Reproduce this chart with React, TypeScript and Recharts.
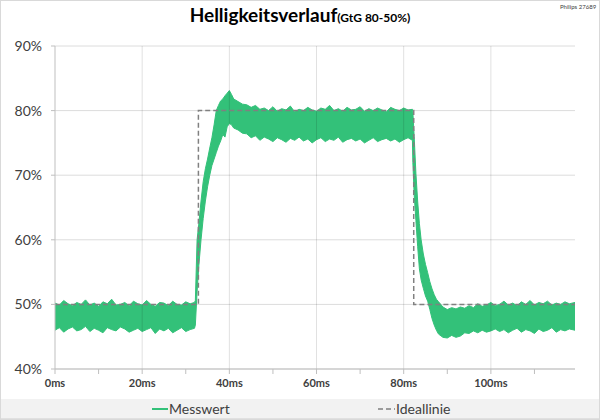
import React from 'react';
import { ComposedChart, Area, Line, XAxis, YAxis, CartesianGrid, ReferenceLine } from 'recharts';

// Messwert: time (ms), lower and upper envelope of the noisy measured signal (%)
const measTime = [
  0, 1, 2, 3, 4, 5, 6, 7, 8, 9, 10, 11, 12, 13, 14, 15, 16, 17, 18, 19, 20, 21, 22, 23, 24, 25, 26, 27, 28, 29, 30, 31, 32,
  32.2, 32.6, 33, 33.5, 34, 34.5, 35, 35.5, 36, 36.5, 37, 37.5, 38, 38.5, 39, 39.5, 40, 40.5, 41,
  42, 43, 44, 45, 46, 47, 48, 49, 50, 51, 52, 53, 54, 55, 56, 57, 58, 59, 60, 61, 62, 63, 64, 65, 66, 67, 68, 69, 70, 71, 72, 73, 74, 75, 76, 77, 78, 79, 80, 81, 82,
  82.1, 82.4, 82.8, 83.2, 83.6, 84, 84.5, 85, 85.5, 86, 86.5, 87, 87.5, 88, 89, 90, 91, 92, 93, 94,
  95, 96, 97, 98, 99, 100, 101, 102, 103, 104, 105, 106, 107, 108, 109, 110, 111, 112, 113, 114, 115, 116, 117, 118, 119.3,
];
const measHigh = [
  50.2, 49.9, 50.6, 50.1, 49.8, 50.3, 50.0, 50.7, 49.9, 50.2, 49.7, 50.4, 50.1, 50.8, 49.9, 50.0, 50.3, 49.8, 50.5, 50.1, 49.9, 50.6, 50.0, 49.7, 50.3, 50.2, 49.8, 50.5, 50.0, 49.9, 50.4, 50.1, 50.3,
  50.6, 60, 62.5, 66, 69, 71, 72.5, 74.2, 75.8, 77.8, 80, 80.8, 81.5, 81.8, 82.3, 82.7, 83.1, 82.5, 81.8,
  81.4, 81.0, 80.9, 80.5, 80.8, 80.2, 80.4, 80.0, 80.6, 79.9, 80.3, 80.1, 80.7, 79.8, 80.2, 80.0, 80.5, 80.1, 79.9, 80.4, 80.2, 80.8, 80.0, 80.3, 79.9, 80.5, 80.1, 80.2, 80.6, 79.9, 80.3, 80.0, 80.4, 80.1, 79.8, 80.5, 80.2, 80.0, 80.4, 80.1, 80.2,
  79.8, 76, 70.3, 66, 62.5, 60, 57.8, 56.2, 54.9, 53.5, 52.4, 51.5, 50.8, 50.4, 49.6, 49.2, 49.5, 49.3, 49.6, 49.4,
  49.8, 49.5, 50.1, 49.7, 49.9, 50.3, 49.8, 50.0, 50.5, 49.9, 50.2, 49.8, 50.4, 50.0, 50.6, 49.9, 50.3, 50.1, 50.5, 49.9, 50.2, 50.0, 50.4, 50.1, 50.3,
];
const measLow = [
  46.0, 46.4, 45.7, 46.2, 46.5, 45.9, 46.1, 46.6, 45.8, 46.3, 46.0, 45.6, 46.4, 46.1, 45.9, 46.5, 46.2, 45.7, 46.0, 46.3, 45.8, 46.1, 46.4, 45.5, 46.2, 45.9, 46.3, 45.6, 46.0, 46.4, 45.8, 46.1, 46.3,
  46.8, 52, 56, 60, 63.3, 66, 68.2, 70, 71.5, 72.5, 73.5, 74.5, 75.3, 76.3, 75.9, 77.5, 78, 77.8, 77.3,
  77.0, 76.5, 76.4, 75.8, 76.1, 75.4, 75.9, 75.6, 75.2, 75.8, 75.5, 75.1, 75.7, 75.4, 75.9, 75.3, 75.6, 75.0, 75.5, 75.8, 75.2, 75.6, 75.4, 75.9, 75.1, 75.5, 75.7, 75.3, 75.6, 75.0, 75.4, 75.8, 75.2, 75.5, 75.7, 75.3, 75.6, 75.1, 75.5, 75.8, 75.4,
  72, 67, 63, 59, 55.5, 53.8, 52.5, 51.3, 50.5, 49.2, 47.8, 46.8, 46, 45.4, 44.9, 44.8, 45.2, 44.9, 45.1, 45.6,
  45.5, 45.9, 45.6, 46.0, 45.7, 45.9, 46.2, 45.8, 46.1, 45.6, 46.0, 46.3, 45.7, 46.1, 45.9, 45.5, 46.2, 45.8, 46.0, 46.4, 45.7, 46.1, 45.9, 46.2, 46.0,
];

// Ideallinie (step response)
const idealTime = [0, 32.9, 32.9, 82.3, 82.3, 119.3];
const idealValue = [50, 50, 80, 80, 50, 50];

const xTicks = [0, 10, 20, 30, 40, 50, 60, 70, 80, 90, 100, 110];
const xGridValues = [20, 40, 60, 80, 100];
const yTicks = [40, 50, 60, 70, 80, 90];

const titleText = 'Helligkeitsverlauf';
const subtitleText = '(GtG 80-50%)';
const sourceText = 'Philips 27689';
const seriesNames = ['Messwert', 'Ideallinie'];

const measData = measTime.map((t, i) => ({ t, range: [measLow[i], measHigh[i]] }));
const idealData = idealTime.map((t, i) => ({ t, v: idealValue[i] }));

const GREEN = '#33c179';
const FONT = 'Lato, "Open Sans", sans-serif';

export default function App() {
  return (
    <div style={{ position: 'absolute', left: 0, top: 0, width: 600, height: 420, background: '#fff', fontFamily: FONT, overflow: 'hidden' }}>
      <div style={{ position: 'absolute', left: 0, top: 3, width: 600, textAlign: 'center', color: '#000', whiteSpace: 'nowrap', lineHeight: '24px' }}>
        <span style={{ fontSize: 19, fontWeight: 700 }}>{titleText}</span>
        <span style={{ fontSize: 12, fontWeight: 700 }}>{subtitleText}</span>
      </div>
      <div style={{ position: 'absolute', left: 560, top: 3, fontSize: 6, color: '#404040', whiteSpace: 'nowrap' }}>{sourceText}</div>
      <div style={{ position: 'absolute', left: 0, top: 399, width: 600, height: 19, background: '#f2f2f2', borderBottom: '1px solid #e0e0e0' }} />
      <div style={{ position: 'absolute', left: 0, top: 0 }}>
        <ComposedChart width={600} height={420} margin={{ top: 46, right: 25, bottom: 21, left: 0 }}>
          <CartesianGrid vertical={false} stroke="#dcdcdc" />
          <XAxis
            type="number"
            dataKey="t"
            domain={[0, 119.3]}
            ticks={xTicks}
            allowDataOverflow
            height={30}
            tickFormatter={(v: number) => (v % 20 === 0 ? `${v}ms` : '')}
            tick={{ fontSize: 11, fontWeight: 700, fill: '#404040', fontFamily: FONT }}
            axisLine={{ stroke: '#bfbfbf' }}
            tickLine={{ stroke: '#bfbfbf' }}
            tickSize={5}
            tickMargin={5}
          />
          <YAxis
            type="number"
            domain={[40, 90]}
            ticks={yTicks}
            width={55}
            tickFormatter={(v: number) => `${v}%`}
            tick={{ fontSize: 14, fill: '#404040', fontFamily: FONT }}
            axisLine={{ stroke: '#bfbfbf' }}
            tickLine={{ stroke: '#bfbfbf' }}
            tickSize={4}
            tickMargin={9}
          />
          <Area
            data={measData}
            dataKey="range"
            type="linear"
            stroke={GREEN}
            strokeWidth={1}
            fill={GREEN}
            fillOpacity={1}
            dot={false}
            activeDot={false}
            isAnimationActive={false}
          />
          {xGridValues.map((x) => (
            <ReferenceLine key={x} x={x} stroke="#000" strokeOpacity={0.12} />
          ))}
          <Line
            data={idealData}
            dataKey="v"
            type="linear"
            stroke="#808080"
            strokeWidth={1.5}
            strokeDasharray="5 3"
            dot={false}
            activeDot={false}
            isAnimationActive={false}
          />
        </ComposedChart>
      </div>
      <div style={{ position: 'absolute', left: 152, top: 408, width: 16, height: 2, background: GREEN }} />
      <div style={{ position: 'absolute', left: 169, top: 400, fontSize: 14, lineHeight: '18px', color: '#404040' }}>{seriesNames[0]}</div>
      <svg style={{ position: 'absolute', left: 378, top: 404 }} width={17} height={10}>
        <line x1={0} y1={5} x2={17} y2={5} stroke="#808080" strokeWidth={1.5} strokeDasharray="5 3" />
      </svg>
      <div style={{ position: 'absolute', left: 396, top: 400, fontSize: 14, lineHeight: '18px', color: '#404040' }}>{seriesNames[1]}</div>
      <div style={{ position: 'absolute', left: 0, top: 0, width: 600, height: 420, boxSizing: 'border-box', border: '1px solid #d9d9d9', pointerEvents: 'none' }} />
    </div>
  );
}
